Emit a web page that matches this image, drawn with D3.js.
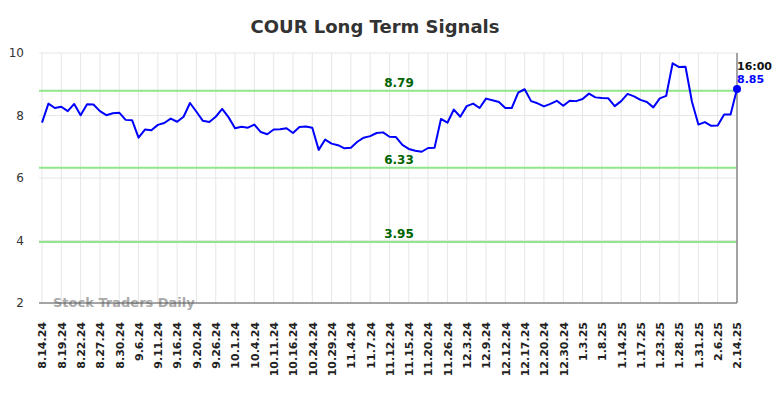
<!DOCTYPE html>
<html>
<head>
<meta charset="utf-8">
<script src="https://cdn.jsdelivr.net/npm/d3@7"></script>
<style>
  html, body { margin: 0; padding: 0; background: #fff; }
  svg { display: block; }
</style>
</head>
<body>
<div id="chart"></div>
<script>
const title = "COUR Long Term Signals";
const tickLabels = ["8.14.24","8.19.24","8.22.24","8.27.24","8.30.24","9.6.24","9.11.24","9.16.24","9.20.24","9.26.24","10.1.24","10.4.24","10.11.24","10.16.24","10.24.24","10.29.24","11.4.24","11.7.24","11.12.24","11.15.24","11.20.24","11.26.24","12.3.24","12.9.24","12.12.24","12.17.24","12.20.24","12.30.24","1.3.25","1.8.25","1.14.25","1.17.25","1.23.25","1.28.25","1.31.25","2.6.25","2.14.25"];
const prices = [7.77,8.38,8.24,8.28,8.14,8.37,8.01,8.36,8.35,8.14,8.01,8.07,8.09,7.86,7.85,7.29,7.55,7.53,7.70,7.76,7.90,7.80,7.96,8.40,8.12,7.83,7.79,7.96,8.21,7.94,7.59,7.64,7.61,7.71,7.47,7.40,7.55,7.56,7.59,7.44,7.63,7.65,7.61,6.90,7.23,7.10,7.05,6.95,6.97,7.16,7.29,7.34,7.44,7.46,7.32,7.31,7.06,6.93,6.87,6.84,6.96,6.97,7.89,7.77,8.19,7.96,8.30,8.38,8.24,8.54,8.49,8.43,8.24,8.24,8.73,8.84,8.46,8.39,8.29,8.37,8.47,8.31,8.47,8.46,8.53,8.70,8.58,8.56,8.55,8.30,8.46,8.69,8.61,8.50,8.43,8.26,8.55,8.63,9.67,9.55,9.56,8.44,7.71,7.79,7.67,7.68,8.03,8.03,8.85];
const levels = [8.79, 6.33, 3.95];
const yTicks = [2, 4, 6, 8, 10];
const pointsPerTick = 3;
const lastTime = "16:00";
const watermark = "Stock Traders Daily";

const W = 784, H = 398;
const svg = d3.select("#chart").append("svg").attr("width", W).attr("height", H);

const x = d3.scaleLinear().domain([0, prices.length - 1]).range([42, 737]);
const y = d3.scaleLinear().domain([2, 10]).range([303, 53]);
const tickIdx = tickLabels.map((d, i) => i * pointsPerTick);

// grid
svg.append("g").selectAll("line.v").data(tickIdx).join("line")
  .attr("x1", d => x(d)).attr("x2", d => x(d)).attr("y1", y(10)).attr("y2", y(2))
  .attr("stroke", "#e6e6e6").attr("stroke-width", 1);
svg.append("g").selectAll("line.h").data(yTicks).join("line")
  .attr("x1", 39).attr("x2", 737).attr("y1", d => y(d)).attr("y2", d => y(d))
  .attr("stroke", "#e6e6e6").attr("stroke-width", 1);

// y labels
svg.append("g").selectAll("text").data(yTicks).join("text")
  .attr("x", 24).attr("y", d => y(d) + 4).attr("text-anchor", "end")
  .attr("font-family", "DejaVu Sans").attr("font-size", 12).attr("fill", "#333")
  .text(d => d);

// x axis
const xAxis = d3.axisBottom(x).tickValues(tickIdx).tickSize(0).tickPadding(0)
  .tickFormat((d, i) => tickLabels[i]);
const gx = svg.append("g").attr("transform", "translate(0,303)").call(xAxis);
gx.select(".domain").remove();
gx.selectAll("text")
  .attr("transform", "rotate(-90)")
  .attr("x", -19).attr("y", 0).attr("dy", "0.35em")
  .attr("text-anchor", "end")
  .attr("font-family", "DejaVu Sans").attr("font-size", 11).attr("font-weight", "bold")
  .attr("fill", "#222");

// levels
levels.forEach(v => {
  svg.append("line").attr("x1", 39).attr("x2", 737).attr("y1", y(v)).attr("y2", y(v))
    .attr("stroke", "#90e68c").attr("stroke-width", 2);
  svg.append("text").attr("x", 399).attr("y", y(v) - 4).attr("text-anchor", "middle")
    .attr("font-family", "DejaVu Sans").attr("font-size", 12).attr("font-weight", "bold")
    .attr("fill", "#006400").text(v.toFixed(2));
});

// watermark
svg.append("text").attr("x", 53).attr("y", 307)
  .attr("font-family", "DejaVu Sans").attr("font-size", 13).attr("font-weight", "bold")
  .attr("fill", "#aaaaaa").text(watermark);

// axis lines
svg.append("line").attr("x1", 39).attr("x2", 737).attr("y1", 303).attr("y2", 303)
  .attr("stroke", "#555").attr("stroke-width", 1);
svg.append("line").attr("x1", 737).attr("x2", 737).attr("y1", 53).attr("y2", 303)
  .attr("stroke", "#888").attr("stroke-width", 1.5);

// price line
const line = d3.line().x((d, i) => x(i)).y(d => y(d));
svg.append("path").datum(prices).attr("d", line)
  .attr("fill", "none").attr("stroke", "#0000ff").attr("stroke-width", 2)
  .attr("stroke-linejoin", "round");

const li = prices.length - 1;
svg.append("circle").attr("cx", x(li)).attr("cy", y(prices[li])).attr("r", 4).attr("fill", "#0000ff");
svg.append("text").attr("x", x(li)).attr("y", 70)
  .attr("font-family", "DejaVu Sans").attr("font-size", 11).attr("font-weight", "bold")
  .attr("fill", "#111").text(lastTime);
svg.append("text").attr("x", x(li)).attr("y", 83)
  .attr("font-family", "DejaVu Sans").attr("font-size", 11).attr("font-weight", "bold")
  .attr("fill", "#0000ff").text(prices[li].toFixed(2));

// title
svg.append("text").attr("x", 375).attr("y", 33).attr("text-anchor", "middle")
  .attr("font-family", "DejaVu Sans").attr("font-size", 18).attr("font-weight", "bold")
  .attr("fill", "#333").text(title);
</script>
</body>
</html>
